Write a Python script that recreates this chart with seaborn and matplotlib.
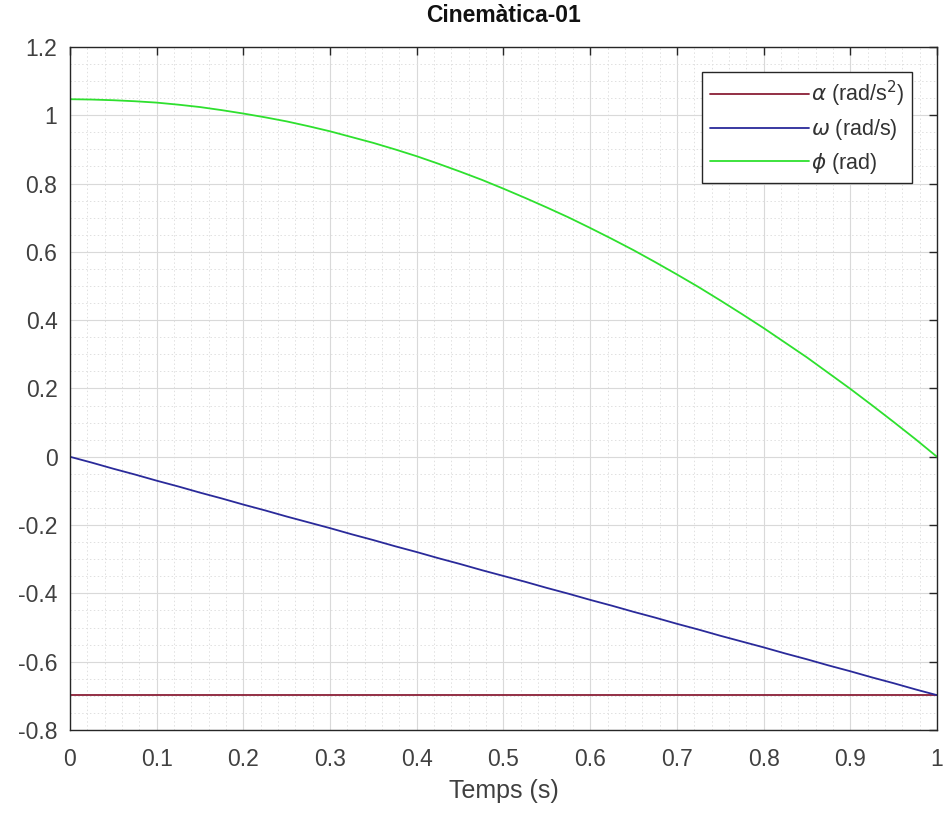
import numpy as np
import pandas as pd
import matplotlib
matplotlib.use("Agg")
import matplotlib.pyplot as plt
import seaborn as sns
from matplotlib.ticker import MultipleLocator

# Data
t = [0.0, 0.025, 0.05, 0.075, 0.1, 0.125, 0.15, 0.175, 0.2, 0.225, 0.25,
     0.275, 0.3, 0.325, 0.35, 0.375, 0.4, 0.425, 0.45, 0.475, 0.5,
     0.525, 0.55, 0.575, 0.6, 0.625, 0.65, 0.675, 0.7, 0.725, 0.75,
     0.775, 0.8, 0.825, 0.85, 0.875, 0.9, 0.925, 0.95, 0.975, 1.0]
alpha = [-0.698] * 41
omega = [0.0, -0.017, -0.035, -0.052, -0.070, -0.087, -0.105, -0.122, -0.140, -0.157, -0.175,
         -0.192, -0.209, -0.227, -0.244, -0.262, -0.279, -0.297, -0.314, -0.332, -0.349,
         -0.366, -0.384, -0.401, -0.419, -0.436, -0.454, -0.471, -0.489, -0.506, -0.524,
         -0.541, -0.558, -0.576, -0.593, -0.611, -0.628, -0.646, -0.663, -0.681, -0.698]
phi = [1.047, 1.046, 1.044, 1.041, 1.037, 1.031, 1.024, 1.015, 1.005, 0.994, 0.982,
       0.968, 0.953, 0.936, 0.919, 0.900, 0.880, 0.858, 0.835, 0.811, 0.785,
       0.758, 0.730, 0.701, 0.670, 0.638, 0.605, 0.570, 0.534, 0.497, 0.458,
       0.418, 0.377, 0.334, 0.291, 0.245, 0.199, 0.151, 0.102, 0.052, 0.0]
labels = [r'$\alpha$ (rad/s$^2$)', r'$\omega$ (rad/s)', r'$\phi$ (rad)']
colors = ['#8a1f36', '#2a2a9a', '#2ee02e']
xticks = [0, 0.1, 0.2, 0.3, 0.4, 0.5, 0.6, 0.7, 0.8, 0.9, 1]
xticklabels = ['0', '0.1', '0.2', '0.3', '0.4', '0.5', '0.6', '0.7', '0.8', '0.9', '1']
yticks = [-0.8, -0.6, -0.4, -0.2, 0, 0.2, 0.4, 0.6, 0.8, 1, 1.2]
yticklabels = ['-0.8', '-0.6', '-0.4', '-0.2', '0', '0.2', '0.4', '0.6', '0.8', '1', '1.2']

df = pd.DataFrame({'t': t, labels[0]: alpha, labels[1]: omega, labels[2]: phi})
long = df.melt(id_vars='t', var_name='serie', value_name='v')

sns.set_style("white")
plt.rcParams['font.family'] = ['Liberation Sans', 'DejaVu Sans']
plt.rcParams['mathtext.fontset'] = 'dejavusans'

fig = plt.figure(figsize=(9.43, 8.18), dpi=100)
ax = fig.add_axes([0.0742, 0.1076, 0.9194, 0.835])

sns.lineplot(data=long, x='t', y='v', hue='serie', palette=colors,
             hue_order=labels, ax=ax, linewidth=1.3)

ax.set_xlim(0, 1)
ax.set_ylim(-0.8, 1.2)
ax.set_xticks(xticks)
ax.set_xticklabels(xticklabels)
ax.set_yticks(yticks)
ax.set_yticklabels(yticklabels)
ax.xaxis.set_minor_locator(MultipleLocator(0.02))
ax.yaxis.set_minor_locator(MultipleLocator(0.05))

ax.grid(True, which='major', color='#d9d9d9', linewidth=0.8, linestyle='-')
ax.grid(True, which='minor', color='#e0e0e0', linewidth=0.7, linestyle=(0, (1.5, 2.5)))
ax.set_axisbelow(True)

ax.tick_params(which='major', direction='in', length=6, width=1, top=True, right=True,
               labelsize=16.5, labelcolor='#404040')
ax.tick_params(axis='x', which='major', pad=13)
ax.tick_params(axis='y', which='major', pad=9)
ax.tick_params(which='minor', length=0, top=True, right=True)
for s in ax.spines.values():
    s.set_color('#262626')
    s.set_linewidth(1.0)

ax.set_xlabel('Temps (s)', fontsize=18, color='#404040', labelpad=6)
ax.set_ylabel('')
ax.set_title('Cinemàtica-01', fontsize=16.5, fontweight='bold', color='#111111', pad=18)

leg = ax.legend(loc='upper right', bbox_to_anchor=(0.971, 0.964), fontsize=15.5,
                frameon=True, fancybox=False, edgecolor='#262626', framealpha=1,
                handlelength=4.6, handletextpad=0.1, borderpad=0.35, labelspacing=0.38,
                borderaxespad=0, title=None)
leg.get_frame().set_linewidth(1.0)
for txt in leg.get_texts():
    txt.set_color('#333333')

fig.savefig('out.png', dpi=100, facecolor='white')
